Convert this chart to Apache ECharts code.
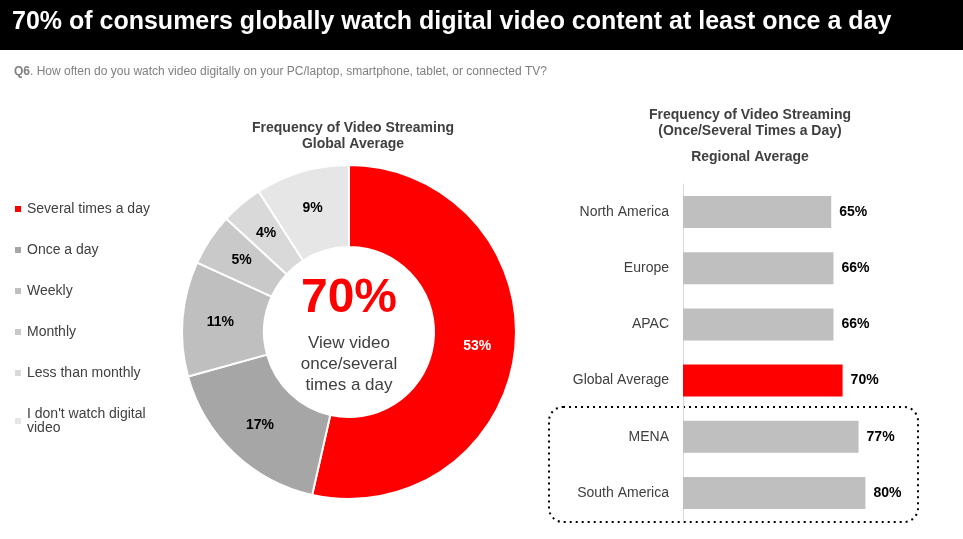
<!DOCTYPE html>
<html><head><meta charset="utf-8">
<script src="https://cdn.jsdelivr.net/npm/echarts@6/dist/echarts.min.js"></script>
<style>body{margin:0}#c{width:963px;height:539px}</style></head>
<body><div id="c"></div>
<script>
const pieNames = ["Several times a day","Once a day","Weekly","Monthly","Less than monthly","I don't watch digital\nvideo"];
const pieValues = [53,17,11,5,4,9];
const pieColors = ["#ff0000","#a6a6a6","#bfbfbf","#c9c9c9","#d9d9d9","#e6e6e6"];
const regions = ["North America","Europe","APAC","Global Average","MENA","South America"];
const regionValues = [65,66,66,70,77,80];

const chart = echarts.init(document.getElementById('c'));
const F = 'Liberation Sans, Arial, sans-serif';
chart.setOption({
  animation:false,
  textStyle:{fontFamily:F},
  graphic:[
    {type:'rect',shape:{x:0,y:0,width:963,height:50},style:{fill:'#000'}},
    {type:'text',left:12,top:10,style:{text:'70% of consumers globally watch digital video content at least once a day',fill:'#fff',font:'bold 25px '+F}},
    {type:'text',left:14,top:66,style:{rich:{b:{font:'bold 12px '+F,fill:'#7f7f7f'},n:{font:'12px '+F,fill:'#7f7f7f'}},text:'{b|Q6}{n|. How often do you watch video digitally on your PC/laptop, smartphone, tablet, or connected TV?}'}},
    {type:'text',x:353,y:120,style:{text:'Frequency of Video Streaming\nGlobal Average',align:'center',font:'bold 14px '+F,fill:'#404040',lineHeight:16}},
    {type:'text',x:750,y:107,style:{text:'Frequency of Video Streaming\n(Once/Several Times a Day)',align:'center',font:'bold 14px '+F,fill:'#404040',lineHeight:16}},
    {type:'text',x:750,y:150,style:{text:'Regional Average',align:'center',font:'bold 14px '+F,fill:'#404040'}},
    {type:'text',x:349,y:275,style:{text:'70%',align:'center',font:'bold 48px '+F,fill:'#ff0000'}},
    {type:'text',x:349,y:333,style:{text:'View video\nonce/several\ntimes a day',align:'center',font:'17px '+F,fill:'#404040',lineHeight:21}},
    {type:'rect',shape:{x:549,y:407,width:369,height:115,r:14},style:{fill:'none',stroke:'#000',lineWidth:2,lineDash:[2,4]}}
  ],
  legend:{orient:'vertical',left:8,top:197,itemWidth:8,itemHeight:8,itemGap:27,icon:'rect',
    data:pieNames,textStyle:{fontSize:14,color:'#404040',fontFamily:F}},
  grid:{left:683,top:184,width:228,height:337},
  xAxis:{type:'value',min:0,max:100,show:false},
  yAxis:{type:'category',data:regions,inverse:true,axisTick:{show:false},
    axisLine:{lineStyle:{color:'#d9d9d9'}},axisLabel:{fontSize:14,color:'#404040',margin:14,fontFamily:F}},
  series:[
    {type:'pie',center:[349,332],radius:[85,167],startAngle:90,clockwise:true,
     data:pieNames.map((n,i)=>({name:n,value:pieValues[i],itemStyle:{color:pieColors[i]}})),
     itemStyle:{borderColor:'#fff',borderWidth:2},
     label:{position:'inside',formatter:'{c}%',fontWeight:'bold',fontSize:14,fontFamily:F,
       color:'#000'},labelLine:{show:false},
     emphasis:{disabled:true}},
    {type:'bar',barWidth:32,
     data:regionValues.map((v,i)=>({value:v,itemStyle:{color:regions[i]==='Global Average'?'#ff0000':'#bfbfbf'}})),
     label:{show:true,position:'right',formatter:'{c}%',fontWeight:'bold',fontSize:14,color:'#000',distance:8,fontFamily:F}}
  ]
});
chart.setOption({series:[{data:pieNames.map((n,i)=>({name:n,value:pieValues[i],itemStyle:{color:pieColors[i]},label:i===0?{color:'#fff'}:{}}))}]});
</script></body></html>
